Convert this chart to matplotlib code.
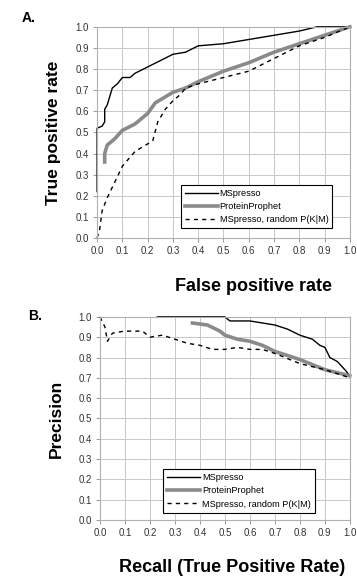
import matplotlib
matplotlib.use("Agg")
import matplotlib.pyplot as plt

plt.rcParams['font.family'] = ['Liberation Sans', 'DejaVu Sans']

# Panel A: ROC curves
roc_ms_x = [0.0, 0.0, 0.02, 0.03, 0.03, 0.04, 0.05, 0.06, 0.08, 0.10, 0.13, 0.15, 0.20, 0.25,
            0.30, 0.35, 0.40, 0.50, 0.60, 0.70, 0.80, 0.87, 1.0]
roc_ms_y = [0.22, 0.52, 0.53, 0.55, 0.61, 0.63, 0.67, 0.71, 0.73, 0.76, 0.76, 0.78, 0.81, 0.84,
            0.87, 0.88, 0.91, 0.92, 0.94, 0.96, 0.98, 1.0, 1.0]
roc_pp_x = [0.03, 0.03, 0.04, 0.07, 0.10, 0.15, 0.20, 0.23, 0.30, 0.35, 0.40, 0.50, 0.60,
            0.70, 0.80, 0.90, 1.0]
roc_pp_y = [0.36, 0.40, 0.44, 0.47, 0.51, 0.54, 0.59, 0.64, 0.69, 0.71, 0.74, 0.79, 0.83,
            0.88, 0.92, 0.96, 1.0]
roc_rnd_x = [0.0, 0.01, 0.02, 0.04, 0.06, 0.10, 0.15, 0.22, 0.24, 0.27, 0.30, 0.33, 0.35,
             0.40, 0.50, 0.60, 0.70, 0.80, 0.90, 1.0]
roc_rnd_y = [0.0, 0.04, 0.13, 0.19, 0.24, 0.34, 0.41, 0.46, 0.55, 0.61, 0.65, 0.68, 0.71,
             0.73, 0.76, 0.79, 0.85, 0.91, 0.95, 1.0]

# Panel B: precision-recall curves
pr_ms_x = [0.23, 0.50, 0.52, 0.60, 0.65, 0.70, 0.75, 0.80, 0.85, 0.88, 0.90, 0.92, 0.95, 0.98, 1.0]
pr_ms_y = [1.0, 1.0, 0.98, 0.98, 0.97, 0.96, 0.94, 0.91, 0.89, 0.86, 0.85, 0.80, 0.78, 0.74, 0.71]
pr_pp_x = [0.37, 0.43, 0.48, 0.50, 0.55, 0.60, 0.65, 0.70, 0.80, 0.90, 1.0]
pr_pp_y = [0.97, 0.96, 0.93, 0.91, 0.89, 0.88, 0.86, 0.83, 0.79, 0.74, 0.71]
pr_rnd_x = [0.0, 0.02, 0.03, 0.05, 0.10, 0.17, 0.20, 0.25, 0.30, 0.35, 0.40, 0.45, 0.50,
            0.55, 0.60, 0.65, 0.70, 0.80, 0.90, 1.0]
pr_rnd_y = [1.0, 0.95, 0.88, 0.92, 0.93, 0.93, 0.90, 0.91, 0.89, 0.87, 0.86, 0.84, 0.84,
            0.85, 0.84, 0.84, 0.82, 0.77, 0.74, 0.70]

series_names = ["MSpresso", "ProteinProphet", "MSpresso, random P(K|M)"]
ticks = [i / 10 for i in range(11)]
tick_labels = ["%.1f" % t for t in ticks]

fig = plt.figure(figsize=(3.57, 5.77), dpi=100)
axA = fig.add_axes([0.272, 0.5875, 0.708, 0.366])
axB = fig.add_axes([0.280, 0.0988, 0.700, 0.352])


def style(ax, xlabel, ylabel, leg_anchor, xlab_pos):
    ax.set_xlim(0, 1)
    ax.set_ylim(0, 1)
    ax.set_xticks(ticks)
    ax.set_yticks(ticks)
    ax.set_xticklabels(tick_labels, fontsize=7, color='#333333')
    ax.set_yticklabels(tick_labels, fontsize=7, color='#333333')
    ax.grid(True, color='#c8c8c8', linewidth=0.7)
    ax.set_axisbelow(True)
    for s in ax.spines.values():
        s.set_color('#b0b0b0')
        s.set_linewidth(0.8)
    ax.tick_params(length=3, width=0.7, color='#999999', pad=3)
    ax.set_xlabel(xlabel, fontsize=13, fontweight='bold', labelpad=13)
    ax.xaxis.set_label_coords(xlab_pos, -0.19)
    ax.set_ylabel(ylabel, fontsize=12.5, fontweight='bold', labelpad=10)
    leg = ax.legend(loc='lower right', bbox_to_anchor=leg_anchor, fontsize=6.6,
                    fancybox=False, framealpha=1, edgecolor='black',
                    handlelength=3.6, handletextpad=0.2, borderpad=0.45,
                    labelspacing=0.45, borderaxespad=0)
    leg.get_frame().set_linewidth(0.8)


for ax, data, anchor, xpos, labels in [
        (axA, [(roc_ms_x, roc_ms_y), (roc_pp_x, roc_pp_y), (roc_rnd_x, roc_rnd_y)],
         (0.931, 0.047), 0.62, ("False positive rate", "True positive rate")),
        (axB, [(pr_ms_x, pr_ms_y), (pr_pp_x, pr_pp_y), (pr_rnd_x, pr_rnd_y)],
         (0.86, 0.036), 0.53, ("Recall (True Positive Rate)", "Precision"))]:
    ax.plot(*data[0], color='black', linewidth=1.0, label=series_names[0], clip_on=False)
    ax.plot(*data[1], color='#8a8a8a', linewidth=2.6, label=series_names[1], clip_on=False)
    ax.plot(*data[2], color='black', linewidth=1.0, linestyle=(0, (3, 3)),
            label=series_names[2], clip_on=False)
    style(ax, labels[0], labels[1], anchor, xpos)

fig.text(0.06, 0.968, "A.", fontsize=10, fontweight='bold', va='center')
fig.text(0.08, 0.452, "B.", fontsize=10, fontweight='bold', va='center')

fig.savefig("out.png", dpi=100)
